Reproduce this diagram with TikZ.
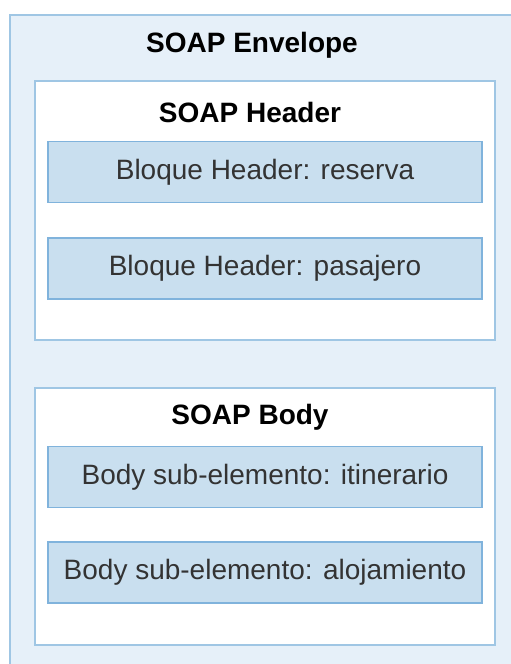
\documentclass[tikz,border=0pt]{standalone}
\usepackage{fontspec}
\setmainfont{Liberation Sans}
\definecolor{envfill}{HTML}{E6F0F9}
\definecolor{envline}{HTML}{9FC6E4}
\definecolor{blkfill}{HTML}{C9DFEF}
\definecolor{blkline}{HTML}{80B3DC}
\definecolor{txtgray}{HTML}{333333}
\begin{document}
\begin{tikzpicture}[x=1pt,y=-1pt,envelope/.style={draw=envline, fill=envfill, line width=1.5pt},part/.style={draw=envline, fill=white, line width=1.5pt, minimum width=460pt},block/.style={draw=blkline, fill=blkfill, line width=1.5pt, minimum width=434pt, minimum height=61pt, text=txtgray, font=\fontsize{28}{33}\selectfont},title/.style={font=\bfseries\fontsize{28}{33}\selectfont}]
\useasboundingbox (0,0) rectangle (511,664);
\clip (0,0) rectangle (511,664);
\draw[envelope] (10,15) rectangle (530,690);
\node[title] (envtitle) at (252,45) {SOAP Envelope};
% header part
\node[part, minimum height=259pt] (header) at (265,210.5) {};
\node[title] (headtitle) at (250,112) {SOAP Header};
\node[block] (reserva) at (265,172) {Bloque Header: reserva};
\node[block] (pasajero) at (265,268.5) {Bloque Header: pasajero};
% body part
\node[part, minimum height=257pt] (body) at (265,516.5) {};
\node[title] (bodytitle) at (250,417) {SOAP Body};
\node[block] (itinerario) at (265,477) {Body sub-elemento: itinerario};
\node[block] (alojamiento) at (265,572.5) {Body sub-elemento: alojamiento};
\end{tikzpicture}
\end{document}
